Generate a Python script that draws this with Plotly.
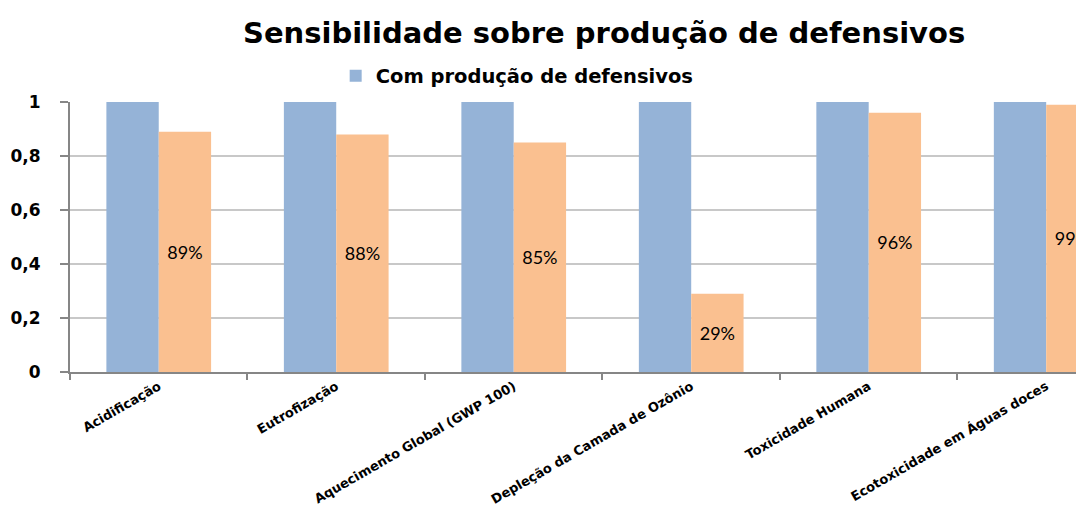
import plotly.graph_objects as go

categories = ["Acidificação", "Eutrofização", "Aquecimento Global (GWP 100)",
              "Depleção da Camada de Ozônio", "Toxicidade Humana",
              "Ecotoxicidade em Águas doces"]
com_producao = [1, 1, 1, 1, 1, 1]
sem_producao = [0.89, 0.88, 0.85, 0.29, 0.96, 0.99]
sem_labels = ["89%", "88%", "85%", "29%", "96%", "99%"]
y_ticks = [0, 0.2, 0.4, 0.6, 0.8, 1]

fig = go.Figure()
fig.add_trace(go.Bar(
    x=categories, y=com_producao, name="<b>Com produção de defensivos</b>",
    marker=dict(color="#95B3D7", line=dict(width=0)),
))
fig.add_trace(go.Bar(
    x=categories, y=sem_producao, name="Sem produção de defensivos",
    marker=dict(color="#FAC090", line=dict(width=0)),
    text=sem_labels, textposition="inside", insidetextanchor="middle",
    textangle=0, textfont=dict(family="Lato", size=18, color="#000000"),
    showlegend=False,
))

fig.update_layout(
    width=1076, height=501,
    paper_bgcolor="white", plot_bgcolor="white",
    margin=dict(l=62, r=0, t=94, b=137, autoexpand=False),
    barmode="group", bargap=0.41, bargroupgap=0,
    separators=",.",
    title=dict(text="<b>Sensibilidade sobre produção de defensivos</b>",
               font=dict(family="DejaVu Sans", size=29, color="#000000"),
               x=0.554, xref="container", xanchor="center",
               y=1 - 25 / 501, yref="container", yanchor="middle"),
    legend=dict(orientation="h", x=0.262, xanchor="left",
                y=1 - 68 / 501, yref="container", yanchor="middle",
                font=dict(family="DejaVu Sans", size=19.5, color="#000000"),
                bgcolor="rgba(0,0,0,0)", itemwidth=30),
    showlegend=True,
)

fig.update_xaxes(
    type="category", range=[-0.5, 5.213], automargin=False,
    tickson="boundaries", ticks="outside", ticklen=6, tickcolor="#868686",
    tickwidth=2,
    showline=True, linecolor="#868686", linewidth=2,
    tickangle=-30,
    tickfont=dict(family="DejaVu Sans", size=13, color="#000000", weight="bold"),
    showgrid=False,
)
fig.update_yaxes(
    range=[0, 1], tickvals=y_ticks, automargin=False,
    ticks="outside", ticklen=8, tickcolor="#868686", tickwidth=2,
    showline=True, linecolor="#868686", linewidth=2,
    showgrid=True, gridcolor="#C8C8C8", gridwidth=2,
    tickfont=dict(family="DejaVu Sans", size=17, color="#000000", weight="bold"),
    zeroline=False, ticklabelstandoff=16,
)

fig.write_html("out.html")
